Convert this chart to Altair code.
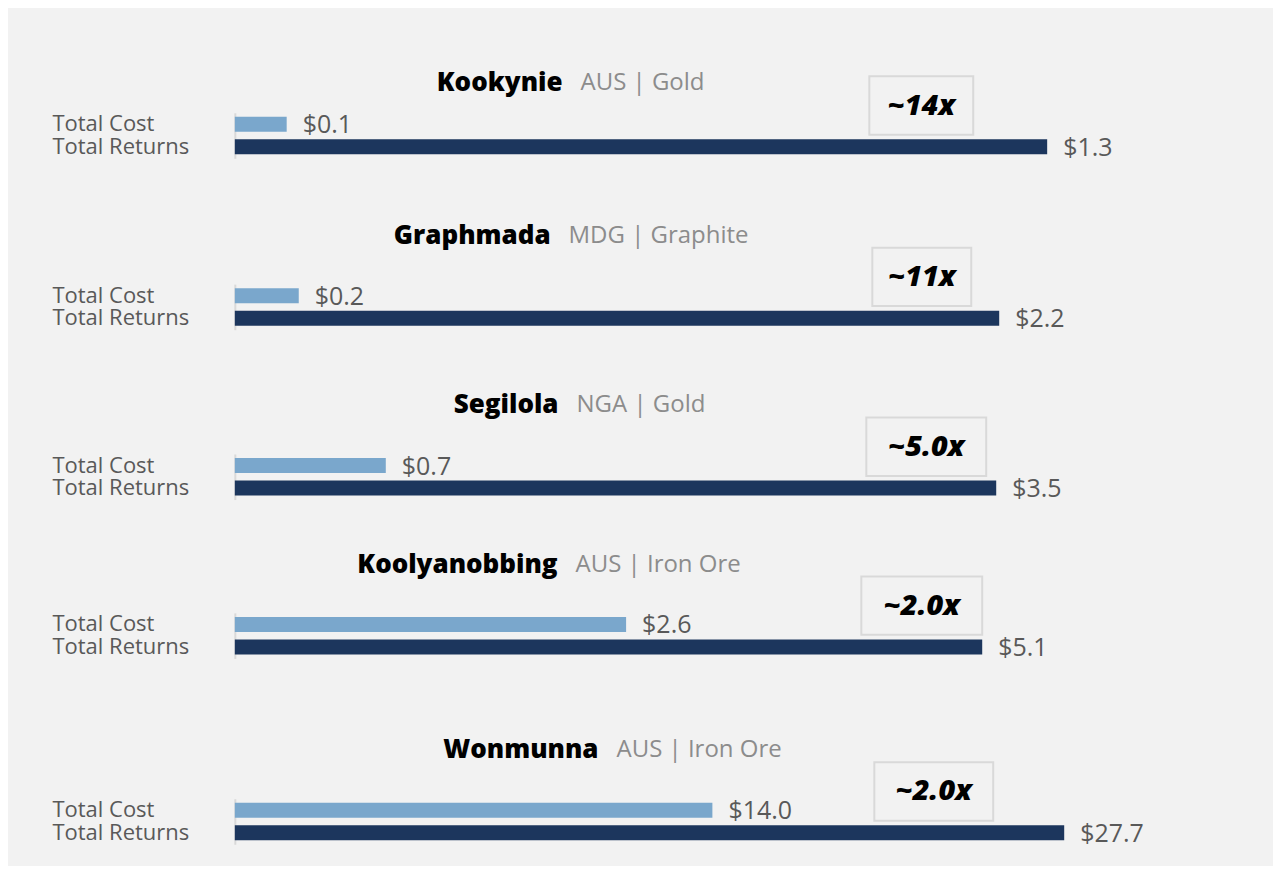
import altair as alt
import pandas as pd

# ---- data ----
projects = ["Kookynie", "Graphmada", "Segilola", "Koolyanobbing", "Wonmunna"]
locations = ["AUS | Gold", "MDG | Graphite", "NGA | Gold", "AUS | Iron Ore", "AUS | Iron Ore"]
metrics = ["Total Cost", "Total Returns"]
total_cost = [0.083, 0.184, 0.694, 2.67, 15.95]
total_returns = [1.3, 2.2, 3.5, 5.1, 27.7]
cost_labels = ["$0.1", "$0.2", "$0.7", "$2.6", "$14.0"]
return_labels = ["$1.3", "$2.2", "$3.5", "$5.1", "$27.7"]
multiples = ["~14x", "~11x", "~5.0x", "~2.0x", "~2.0x"]

# per-panel x scale extent (each panel has its own scale)
x_domain_max = [1.655, 2.9765, 4.754, 7.057, 34.54]

# ---- layout / style ----
W = 1035
panel_h = [192, 170, 160, 170, 166]
band_top = [104.5, 84, 84, 83, 99]
BAND_H = 45.6
title_y = [75, 36, 35, 35, 50]
title_split = [328, 316, 324, 323, 364]
box_x = [(635, 739), (638, 737), (632, 752), (627, 748), (640, 759)]

BG = "#f2f2f2"
FONT = "Open Sans"
LIGHT = "#7aa7cc"
DARK = "#1c365d"
GRAY = "#595959"


def panel(i):
    df = pd.DataFrame({
        "metric": metrics,
        "value": [total_cost[i], total_returns[i]],
        "label": [cost_labels[i], return_labels[i]],
    })
    one = pd.DataFrame({
        "name": [projects[i]],
        "loc": [locations[i]],
        "mult": [multiples[i]],
    })
    y = alt.Y(
        "metric:N",
        sort=metrics,
        scale=alt.Scale(range=[band_top[i], band_top[i] + BAND_H],
                        paddingInner=0.333, paddingOuter=0.18),
        axis=alt.Axis(title=None, ticks=False, tickSize=0, labelAlign="left",
                      labelPadding=183, labelFontSize=22, labelColor=GRAY,
                      labelFont=FONT, labelBaseline="middle",
                      domainColor="#d9d9d9", domainWidth=2),
    )
    x = alt.X("value:Q", scale=alt.Scale(domain=[0, x_domain_max[i]], nice=False, zero=True),
              axis=None)
    base = alt.Chart(df)
    bars = base.mark_bar().encode(
        x=x, y=y,
        color=alt.Color("metric:N", scale=alt.Scale(domain=metrics, range=[LIGHT, DARK]),
                        legend=None),
    )
    vals = base.mark_text(align="left", baseline="middle", dx=16, dy=1, fontSize=25,
                          font=FONT, color=GRAY).encode(
        x=x, y=alt.Y("metric:N", sort=metrics), text="label:N")

    b1 = alt.Chart(one)
    name = b1.mark_text(align="right", baseline="middle", fontSize=26, fontWeight=800,
                        font=FONT, color="#000000").encode(
        x=alt.value(title_split[i]), y=alt.value(title_y[i]), text="name:N")
    loc = b1.mark_text(align="left", baseline="middle", fontSize=24,
                       font=FONT, color="#8c8c8c").encode(
        x=alt.value(title_split[i] + 18), y=alt.value(title_y[i]), text="loc:N")
    bt = band_top[i] - 36.5
    bb = band_top[i] + 22
    box = b1.mark_rect(fill=BG, stroke="#d9d9d9", strokeWidth=2).encode(
        x=alt.value(box_x[i][0]), x2=alt.value(box_x[i][1]),
        y=alt.value(bt), y2=alt.value(bb))
    mult = b1.mark_text(align="center", baseline="middle", fontSize=29, fontWeight=800,
                        fontStyle="italic", font=FONT, color="#000000").encode(
        x=alt.value((box_x[i][0] + box_x[i][1]) / 2), y=alt.value((bt + bb) / 2),
        text="mult:N")
    return alt.layer(bars, vals, box, mult, name, loc).properties(width=W, height=panel_h[i])


chart = alt.vconcat(*[panel(i) for i in range(5)], spacing=0).resolve_scale(
    x="independent", y="independent"
).properties(
    background=BG,
    padding={"left": 44, "top": 0, "right": 4, "bottom": 0},
).configure_view(stroke=None)

chart.save("out.html", embed_options={"renderer": "svg", "actions": False})
